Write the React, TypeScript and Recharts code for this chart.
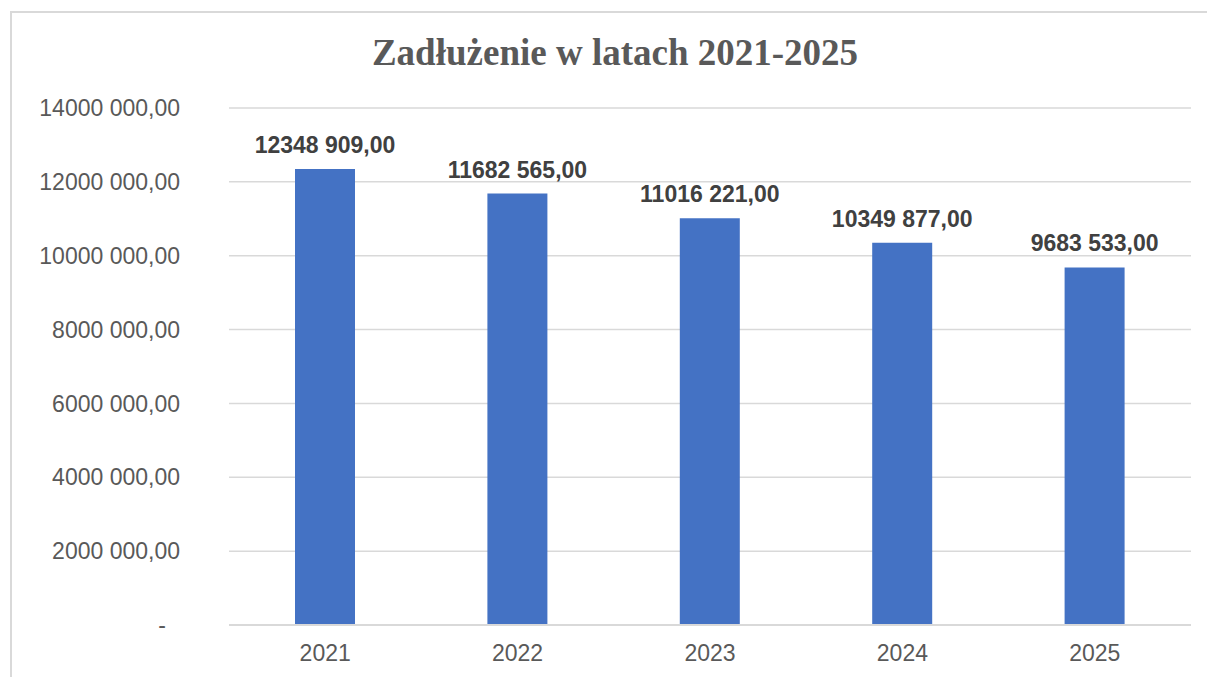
import React from 'react';
import { BarChart, Bar, XAxis, YAxis, CartesianGrid, LabelList } from 'recharts';

const years = ['2021', '2022', '2023', '2024', '2025'];
const debt = [12348909, 11682565, 11016221, 10349877, 9683533];
const yTicks = [0, 2000000, 4000000, 6000000, 8000000, 10000000, 12000000, 14000000];

const chartData = years.map((year, i) => ({ year, debt: debt[i] }));

// Excel-style "12348 909,00" (only the last group separated); nbsp so labels don't wrap
const formatValue = (v: number) => {
  if (v === 0) return '-';
  const s = Math.round(v).toString();
  const head = s.length > 3 ? s.slice(0, -3) + '\u00a0' + s.slice(-3) : s;
  return head + ',00';
};

const FONT = '"Liberation Sans", Arial, sans-serif';

const YTick = (props: any) => {
  const { x, y, payload } = props;
  const isZero = payload.value === 0;
  return (
    <text
      x={isZero ? x - 14 : x}
      y={y}
      dy="0.355em"
      textAnchor="end"
      fill="#595959"
      fontSize={23}
      fontFamily={FONT}
    >
      {formatValue(payload.value)}
    </text>
  );
};

const App: React.FC = () => {
  return (
    <div style={{ position: 'relative', width: 1207, height: 677, overflow: 'hidden', background: '#fff' }}>
      <style>{'body{margin:0;overflow:hidden;}'}</style>
      <div
        style={{
          position: 'absolute',
          left: 10,
          top: 11,
          width: 1220,
          height: 720,
          border: '2px solid #d9d9d9',
          boxSizing: 'border-box',
        }}
      />
      <div
        style={{
          position: 'absolute',
          left: 0,
          width: 1230,
          top: 31,
          textAlign: 'center',
          fontFamily: '"Liberation Serif", "Times New Roman", serif',
          fontWeight: 'bold',
          fontSize: 37,
          color: '#595959',
          lineHeight: '44px',
        }}
      >
        Zadłużenie w latach 2021-2025
      </div>
      <div style={{ position: 'absolute', left: 0, top: 0 }}>
        <BarChart
          width={1207}
          height={677}
          data={chartData}
          margin={{ top: 108, right: 16, bottom: 12, left: 0 }}
        >
          <CartesianGrid vertical={false} stroke="#d9d9d9" strokeWidth={1.5} />
          <XAxis
            dataKey="year"
            height={40}
            axisLine={{ stroke: '#d9d9d9', strokeWidth: 2 }}
            tickLine={false}
            tickSize={0}
            tickMargin={20}
            tick={{ fill: '#595959', fontSize: 23, fontFamily: FONT }}
          />
          <YAxis
            width={229}
            domain={[0, 14000000]}
            ticks={yTicks}
            axisLine={false}
            tickLine={false}
            tickSize={0}
            tickMargin={49}
            tick={<YTick />}
            interval={0}
          />
          <Bar dataKey="debt" fill="#4472c4" barSize={60} isAnimationActive={false}>
            <LabelList
              dataKey="debt"
              position="top"
              offset={16}
              formatter={(v: any) => formatValue(Number(v))}
              style={{ fill: '#404040', fontSize: 23, fontWeight: 'bold', fontFamily: FONT }}
            />
          </Bar>
        </BarChart>
      </div>
    </div>
  );
};

export default App;
